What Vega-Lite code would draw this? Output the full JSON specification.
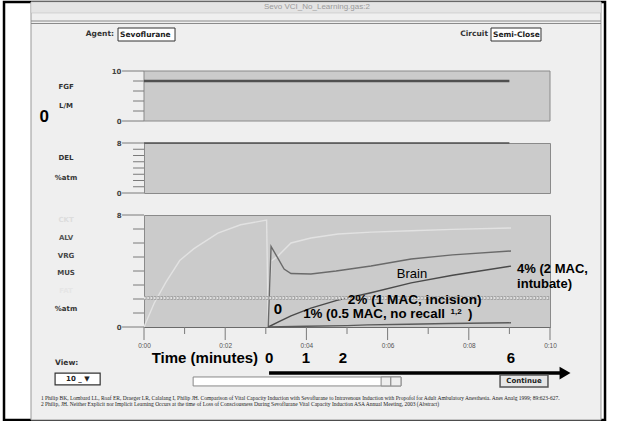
{
  "$schema": "https://vega.github.io/schema/vega-lite/v6.json",
  "padding": 0,
  "background": "white",
  "bounds": "flush",
  "spacing": 22,
  "data": {"values": [{}]},
  "config": {
    "view": {"fill": "#cbcbcb", "stroke": "#8a8a8a", "strokeWidth": 1},
    "axis": {"grid": false, "domainColor": "#8a8a8a", "tickColor": "transparent", "labelColor": "#444", "labelFont": "DejaVu Sans", "labelFontSize": 7, "labelFontWeight": "bold"},
    "text": {"font": "Liberation Sans"}
  },
  "datasets": {
    "fgf": [{"t": 0, "v": 8}, {"t": 9, "v": 8}],
    "del": [{"t": 0, "v": 8}, {"t": 9, "v": 8}],
    "gas": [
      {"s": "CKT", "t": 0, "v": 0}, {"s": "CKT", "t": 0.25, "v": 1.7}, {"s": "CKT", "t": 0.54, "v": 3.2}, {"s": "CKT", "t": 0.88, "v": 4.75},
      {"s": "CKT", "t": 1.23, "v": 5.6}, {"s": "CKT", "t": 1.82, "v": 6.7}, {"s": "CKT", "t": 2.38, "v": 7.3}, {"s": "CKT", "t": 3.02, "v": 7.64},
      {"s": "CKT", "t": 3.06, "v": 0.05}, {"s": "CKT", "t": 3.13, "v": 4.7}, {"s": "CKT", "t": 3.3, "v": 5.07}, {"s": "CKT", "t": 3.62, "v": 6.0},
      {"s": "CKT", "t": 4.11, "v": 6.36}, {"s": "CKT", "t": 4.78, "v": 6.64}, {"s": "CKT", "t": 5.6, "v": 6.78}, {"s": "CKT", "t": 6.58, "v": 6.88},
      {"s": "CKT", "t": 7.6, "v": 6.97}, {"s": "CKT", "t": 9.04, "v": 7.07},
      {"s": "ALV", "t": 3.06, "v": 0}, {"s": "ALV", "t": 3.13, "v": 5.75}, {"s": "ALV", "t": 3.3, "v": 4.9}, {"s": "ALV", "t": 3.45, "v": 4.14},
      {"s": "ALV", "t": 3.62, "v": 3.82}, {"s": "ALV", "t": 4.11, "v": 3.79}, {"s": "ALV", "t": 4.73, "v": 4.0}, {"s": "ALV", "t": 5.59, "v": 4.36},
      {"s": "ALV", "t": 6.58, "v": 4.86}, {"s": "ALV", "t": 7.6, "v": 5.15}, {"s": "ALV", "t": 9.04, "v": 5.43},
      {"s": "VRG", "t": 3.06, "v": 0}, {"s": "VRG", "t": 3.3, "v": 0.35}, {"s": "VRG", "t": 3.62, "v": 0.8}, {"s": "VRG", "t": 4.11, "v": 1.35},
      {"s": "VRG", "t": 4.75, "v": 1.9}, {"s": "VRG", "t": 5.59, "v": 2.45}, {"s": "VRG", "t": 6.58, "v": 3.15}, {"s": "VRG", "t": 7.6, "v": 3.7},
      {"s": "VRG", "t": 9.04, "v": 4.35},
      {"s": "MUS", "t": 3.06, "v": 0}, {"s": "MUS", "t": 4.0, "v": 0.05}, {"s": "MUS", "t": 5.0, "v": 0.1}, {"s": "MUS", "t": 5.5, "v": 0.15},
      {"s": "MUS", "t": 6.5, "v": 0.2}, {"s": "MUS", "t": 7.5, "v": 0.25}, {"s": "MUS", "t": 9.04, "v": 0.3}
    ],
    "majorx": [{"t": 0}, {"t": 2}, {"t": 4}, {"t": 6}, {"t": 8}, {"t": 10}],
    "minorx": [{"t": 1}, {"t": 3}, {"t": 5}, {"t": 7}, {"t": 9}],
    "minor10": [{"v": 2}, {"v": 4}, {"v": 6}, {"v": 8}],
    "major10": [{"v": 0}, {"v": 10}],
    "minor8": [{"v": 1}, {"v": 2}, {"v": 3}, {"v": 4}, {"v": 5}, {"v": 6}, {"v": 7}],
    "major8": [{"v": 0}, {"v": 8}]
  },
  "vconcat": [
    {
      "width": 406,
      "height": 50,
      "layer": [
        {
          "mark": {"type": "rect", "fill": "white"},
          "encoding": {
            "x": {"datum": -3.5222, "type": "quantitative", "scale": {"domain": [0, 10], "nice": false, "zero": false}, "axis": null},
            "x2": {"datum": 12.0197},
            "y": {"datum": 24, "type": "quantitative", "scale": {"domain": [0, 10], "nice": false, "zero": false},
              "axis": {"values": [0, 10], "zindex": 1, "domain": false, "title": null, "tickSize": 11, "labelPadding": 12}},
            "y2": {"datum": -60.2}
          }
        },
        {
          "mark": {"type": "rect", "fill": "white", "stroke": "black", "strokeWidth": 2.5},
          "encoding": {"x": {"datum": -3.448, "type": "quantitative"}, "x2": {"datum": 11.355}, "y": {"datum": 23.8, "type": "quantitative"}, "y2": {"datum": -59.8}}
        },
        {
          "mark": {"type": "rect", "fill": "#efefef", "stroke": "#999999", "strokeWidth": 1},
          "encoding": {"x": {"datum": -2.783, "type": "quantitative"}, "x2": {"datum": 11.256}, "y": {"datum": 23.8, "type": "quantitative"}, "y2": {"datum": -59.8}}
        },
        {
          "mark": {"type": "rect", "fill": "#e4e4e4", "stroke": "#bbbbbb", "strokeWidth": 0.5},
          "encoding": {"x": {"datum": -2.783, "type": "quantitative"}, "x2": {"datum": 11.256}, "y": {"datum": 23.8, "type": "quantitative"}, "y2": {"datum": 21.6}}
        },
        {
          "mark": {"type": "text", "text": "Sevo VCI_No_Learning.gas:2", "fontSize": 8, "color": "#9a9a9a", "align": "center", "baseline": "middle"},
          "encoding": {"x": {"datum": 4.26, "type": "quantitative"}, "y": {"datum": 22.8, "type": "quantitative"}}
        },
        {
          "mark": {"type": "rule", "color": "#8a8a8a", "strokeWidth": 1},
          "encoding": {"x": {"datum": -2.783, "type": "quantitative"}, "x2": {"datum": 11.256}, "y": {"datum": 20.0, "type": "quantitative"}}
        },
        {
          "mark": {"type": "rule", "color": "#8a8a8a", "strokeWidth": 1},
          "encoding": {"x": {"datum": -2.783, "type": "quantitative"}, "x2": {"datum": 11.256}, "y": {"datum": 19.5, "type": "quantitative"}}
        },
        {
          "mark": {"type": "text", "text": "Agent:", "font": "DejaVu Sans", "fontSize": 7.5, "fontWeight": "bold", "color": "#333", "align": "right", "baseline": "middle"},
          "encoding": {"x": {"datum": -0.739, "type": "quantitative"}, "y": {"datum": 17.4, "type": "quantitative"}}
        },
        {
          "mark": {"type": "rect", "fill": "white", "stroke": "#333", "strokeWidth": 1},
          "encoding": {"x": {"datum": -0.64, "type": "quantitative"}, "x2": {"datum": 0.764}, "y": {"datum": 18.6, "type": "quantitative"}, "y2": {"datum": 16.0}}
        },
        {
          "mark": {"type": "text", "text": "Sevoflurane", "font": "DejaVu Sans", "fontSize": 7.5, "fontWeight": "bold", "color": "#222", "align": "left", "baseline": "middle"},
          "encoding": {"x": {"datum": -0.59, "type": "quantitative"}, "y": {"datum": 17.3, "type": "quantitative"}}
        },
        {
          "mark": {"type": "text", "text": "Circuit", "font": "DejaVu Sans", "fontSize": 7.5, "fontWeight": "bold", "color": "#333", "align": "right", "baseline": "middle"},
          "encoding": {"x": {"datum": 8.473, "type": "quantitative"}, "y": {"datum": 17.4, "type": "quantitative"}}
        },
        {
          "mark": {"type": "rect", "fill": "white", "stroke": "#333", "strokeWidth": 1},
          "encoding": {"x": {"datum": 8.547, "type": "quantitative"}, "x2": {"datum": 9.778}, "y": {"datum": 18.6, "type": "quantitative"}, "y2": {"datum": 16.0}}
        },
        {
          "mark": {"type": "text", "text": "Semi-Close", "font": "DejaVu Sans", "fontSize": 7.5, "fontWeight": "bold", "color": "#222", "align": "left", "baseline": "middle"},
          "encoding": {"x": {"datum": 8.596, "type": "quantitative"}, "y": {"datum": 17.3, "type": "quantitative"}}
        },
        {
          "mark": {"type": "rect", "fill": "#cbcbcb", "stroke": "#8a8a8a", "strokeWidth": 1},
          "encoding": {"x": {"datum": 0, "type": "quantitative"}, "x2": {"datum": 10}, "y": {"datum": 10, "type": "quantitative"}, "y2": {"datum": 0}}
        },
        {
          "data": {"name": "major10"},
          "mark": {"type": "rule", "color": "#7a7a7a", "strokeWidth": 1},
          "encoding": {"x": {"datum": -0.54, "type": "quantitative"}, "x2": {"datum": 0}, "y": {"field": "v", "type": "quantitative"}}
        },
        {
          "data": {"name": "minor10"},
          "mark": {"type": "rule", "color": "#7a7a7a", "strokeWidth": 1},
          "encoding": {"x": {"datum": -0.27, "type": "quantitative"}, "x2": {"datum": 0}, "y": {"field": "v", "type": "quantitative"}}
        },
        {
          "data": {"name": "fgf"},
          "mark": {"type": "line", "color": "#505050", "strokeWidth": 2.5},
          "encoding": {"x": {"field": "t", "type": "quantitative"}, "y": {"field": "v", "type": "quantitative"}}
        },
        {
          "mark": {"type": "text", "text": "FGF", "font": "DejaVu Sans", "fontSize": 7, "fontWeight": "bold", "color": "#333", "align": "center", "baseline": "middle"},
          "encoding": {"x": {"datum": -1.92, "type": "quantitative"}, "y": {"datum": 6.8, "type": "quantitative"}}
        },
        {
          "mark": {"type": "text", "text": "L/M", "font": "DejaVu Sans", "fontSize": 7, "fontWeight": "bold", "color": "#333", "align": "center", "baseline": "middle"},
          "encoding": {"x": {"datum": -1.92, "type": "quantitative"}, "y": {"datum": 3.0, "type": "quantitative"}}
        },
        {
          "mark": {"type": "text", "text": "0", "fontSize": 17, "fontWeight": "bold", "color": "black", "align": "center", "baseline": "middle"},
          "encoding": {"x": {"datum": -2.46, "type": "quantitative"}, "y": {"datum": 0.8, "type": "quantitative"}}
        }
      ]
    },
    {
      "width": 406,
      "height": 50,
      "layer": [
        {
          "data": {"name": "del"},
          "mark": {"type": "line", "color": "#505050", "strokeWidth": 1.5},
          "encoding": {
            "x": {"field": "t", "type": "quantitative", "scale": {"domain": [0, 10], "nice": false, "zero": false}, "axis": null},
            "y": {"field": "v", "type": "quantitative", "scale": {"domain": [0, 8], "nice": false, "zero": false},
              "axis": {"values": [0, 8], "domain": false, "title": null, "tickSize": 11, "labelPadding": 12}}
          }
        },
        {
          "data": {"name": "major8"},
          "mark": {"type": "rule", "color": "#7a7a7a", "strokeWidth": 1},
          "encoding": {"x": {"datum": -0.54, "type": "quantitative"}, "x2": {"datum": 0}, "y": {"field": "v", "type": "quantitative"}}
        },
        {
          "data": {"name": "minor8"},
          "mark": {"type": "rule", "color": "#7a7a7a", "strokeWidth": 1},
          "encoding": {"x": {"datum": -0.27, "type": "quantitative"}, "x2": {"datum": 0}, "y": {"field": "v", "type": "quantitative"}}
        },
        {
          "mark": {"type": "text", "text": "DEL", "font": "DejaVu Sans", "fontSize": 7, "fontWeight": "bold", "color": "#333", "align": "center", "baseline": "middle"},
          "encoding": {"x": {"datum": -1.92, "type": "quantitative"}, "y": {"datum": 5.6, "type": "quantitative"}}
        },
        {
          "mark": {"type": "text", "text": "%atm", "font": "DejaVu Sans", "fontSize": 7, "fontWeight": "bold", "color": "#333", "align": "center", "baseline": "middle"},
          "encoding": {"x": {"datum": -1.92, "type": "quantitative"}, "y": {"datum": 2.4, "type": "quantitative"}}
        }
      ]
    },
    {
      "width": 406,
      "height": 112,
      "layer": [
        {
          "data": {"name": "gas"},
          "mark": {"type": "line", "strokeWidth": 1.4},
          "encoding": {
            "x": {"field": "t", "type": "quantitative", "scale": {"domain": [0, 10], "nice": false, "zero": false},
              "axis": {"values": [0, 2, 4, 6, 8, 10], "title": null, "labelFlush": false, "tickSize": 7,
                "labelExpr": "'0:' + (datum.value < 10 ? '0' : '') + datum.value",
                "labelPadding": 8, "labelFont": "Liberation Sans", "labelFontWeight": "normal", "labelFontSize": 6.5, "labelColor": "#555", "domainColor": "#6a6a6a"}},
            "y": {"field": "v", "type": "quantitative", "scale": {"domain": [0, 8], "nice": false, "zero": false},
              "axis": {"values": [0, 8], "domain": false, "title": null, "tickSize": 11, "labelPadding": 12}},
            "color": {"field": "s", "type": "nominal", "legend": null,
              "scale": {"domain": ["CKT", "ALV", "VRG", "MUS"], "range": ["#e2e2e2", "#6a6a6a", "#4a4a4a", "#5a5a5a"]}}
          }
        },
        {
          "data": {"name": "majorx"},
          "mark": {"type": "rule", "color": "#7a7a7a", "strokeWidth": 1},
          "encoding": {"x": {"field": "t", "type": "quantitative"}, "y": {"datum": 0, "type": "quantitative"}, "y2": {"datum": -0.93}}
        },
        {
          "data": {"name": "minorx"},
          "mark": {"type": "rule", "color": "#7a7a7a", "strokeWidth": 1},
          "encoding": {"x": {"field": "t", "type": "quantitative"}, "y": {"datum": 0, "type": "quantitative"}, "y2": {"datum": -0.5}}
        },
        {
          "data": {"name": "major8"},
          "mark": {"type": "rule", "color": "#7a7a7a", "strokeWidth": 1},
          "encoding": {"x": {"datum": -0.54, "type": "quantitative"}, "x2": {"datum": 0}, "y": {"field": "v", "type": "quantitative"}}
        },
        {
          "data": {"name": "minor8"},
          "mark": {"type": "rule", "color": "#7a7a7a", "strokeWidth": 1},
          "encoding": {"x": {"datum": -0.27, "type": "quantitative"}, "x2": {"datum": 0}, "y": {"field": "v", "type": "quantitative"}}
        },
        {
          "mark": {"type": "rule", "color": "#a5a5a5", "strokeWidth": 4, "strokeDash": [2.5, 0.8]},
          "encoding": {"x": {"datum": 0, "type": "quantitative"}, "x2": {"datum": 10}, "y": {"datum": 2.07, "type": "quantitative"}}
        },
        {
          "mark": {"type": "rule", "color": "#e2e2e2", "strokeWidth": 1.8, "strokeDash": [1.6, 1.7]},
          "encoding": {"x": {"datum": 0, "type": "quantitative"}, "x2": {"datum": 10}, "y": {"datum": 2.07, "type": "quantitative"}}
        },
        {
          "mark": {"type": "text", "text": "0", "fontSize": 15, "fontWeight": "bold", "color": "black", "align": "center", "baseline": "middle"},
          "encoding": {"x": {"datum": 3.3, "type": "quantitative"}, "y": {"datum": 1.29, "type": "quantitative"}}
        },
        {
          "mark": {"type": "text", "text": "1% (0.5 MAC, no recall", "fontSize": 13.3, "fontWeight": "bold", "color": "black", "align": "left", "baseline": "middle"},
          "encoding": {"x": {"datum": 3.92, "type": "quantitative"}, "y": {"datum": 0.93, "type": "quantitative"}}
        },
        {
          "mark": {"type": "text", "text": "1,2", "fontSize": 8, "fontWeight": "bold", "color": "black", "align": "left", "baseline": "middle"},
          "encoding": {"x": {"datum": 7.55, "type": "quantitative"}, "y": {"datum": 1.1, "type": "quantitative"}}
        },
        {
          "mark": {"type": "text", "text": ")", "fontSize": 13.3, "fontWeight": "bold", "color": "black", "align": "left", "baseline": "middle"},
          "encoding": {"x": {"datum": 7.98, "type": "quantitative"}, "y": {"datum": 0.93, "type": "quantitative"}}
        },
        {
          "mark": {"type": "text", "text": "2% (1 MAC, incision)", "fontSize": 13.6, "fontWeight": "bold", "color": "black", "align": "left", "baseline": "middle"},
          "encoding": {"x": {"datum": 5.02, "type": "quantitative"}, "y": {"datum": 1.93, "type": "quantitative"}}
        },
        {
          "mark": {"type": "text", "text": "Brain", "fontSize": 13, "color": "black", "align": "center", "baseline": "middle"},
          "encoding": {"x": {"datum": 6.6, "type": "quantitative"}, "y": {"datum": 3.79, "type": "quantitative"}}
        },
        {
          "mark": {"type": "text", "text": "4% (2 MAC,", "fontSize": 13, "fontWeight": "bold", "color": "black", "align": "left", "baseline": "middle"},
          "encoding": {"x": {"datum": 9.19, "type": "quantitative"}, "y": {"datum": 4.14, "type": "quantitative"}}
        },
        {
          "mark": {"type": "text", "text": "intubate)", "fontSize": 13, "fontWeight": "bold", "color": "black", "align": "left", "baseline": "middle"},
          "encoding": {"x": {"datum": 9.19, "type": "quantitative"}, "y": {"datum": 3.07, "type": "quantitative"}}
        },
        {
          "mark": {"type": "text", "text": "CKT", "font": "DejaVu Sans", "fontSize": 7, "fontWeight": "bold", "color": "#dddddd", "align": "center", "baseline": "middle"},
          "encoding": {"x": {"datum": -1.92, "type": "quantitative"}, "y": {"datum": 7.64, "type": "quantitative"}}
        },
        {
          "mark": {"type": "text", "text": "ALV", "font": "DejaVu Sans", "fontSize": 7, "fontWeight": "bold", "color": "#555", "align": "center", "baseline": "middle"},
          "encoding": {"x": {"datum": -1.92, "type": "quantitative"}, "y": {"datum": 6.36, "type": "quantitative"}}
        },
        {
          "mark": {"type": "text", "text": "VRG", "font": "DejaVu Sans", "fontSize": 7, "fontWeight": "bold", "color": "#444", "align": "center", "baseline": "middle"},
          "encoding": {"x": {"datum": -1.92, "type": "quantitative"}, "y": {"datum": 5.07, "type": "quantitative"}}
        },
        {
          "mark": {"type": "text", "text": "MUS", "font": "DejaVu Sans", "fontSize": 7, "fontWeight": "bold", "color": "#444", "align": "center", "baseline": "middle"},
          "encoding": {"x": {"datum": -1.92, "type": "quantitative"}, "y": {"datum": 3.86, "type": "quantitative"}}
        },
        {
          "mark": {"type": "text", "text": "FAT", "font": "DejaVu Sans", "fontSize": 7, "fontWeight": "bold", "color": "#e6e6e6", "align": "center", "baseline": "middle"},
          "encoding": {"x": {"datum": -1.92, "type": "quantitative"}, "y": {"datum": 2.57, "type": "quantitative"}}
        },
        {
          "mark": {"type": "text", "text": "%atm", "font": "DejaVu Sans", "fontSize": 7, "fontWeight": "bold", "color": "#333", "align": "center", "baseline": "middle"},
          "encoding": {"x": {"datum": -1.92, "type": "quantitative"}, "y": {"datum": 1.29, "type": "quantitative"}}
        },
        {
          "mark": {"type": "text", "text": "Time (minutes)", "fontSize": 15, "fontWeight": "bold", "color": "black", "align": "center", "baseline": "middle"},
          "encoding": {"x": {"datum": 1.5, "type": "quantitative"}, "y": {"datum": -2.21, "type": "quantitative"}}
        },
        {
          "mark": {"type": "text", "text": "0", "fontSize": 15, "fontWeight": "bold", "color": "black", "align": "center", "baseline": "middle"},
          "encoding": {"x": {"datum": 3.08, "type": "quantitative"}, "y": {"datum": -2.21, "type": "quantitative"}}
        },
        {
          "mark": {"type": "text", "text": "1", "fontSize": 15, "fontWeight": "bold", "color": "black", "align": "center", "baseline": "middle"},
          "encoding": {"x": {"datum": 3.99, "type": "quantitative"}, "y": {"datum": -2.21, "type": "quantitative"}}
        },
        {
          "mark": {"type": "text", "text": "2", "fontSize": 15, "fontWeight": "bold", "color": "black", "align": "center", "baseline": "middle"},
          "encoding": {"x": {"datum": 4.9, "type": "quantitative"}, "y": {"datum": -2.21, "type": "quantitative"}}
        },
        {
          "mark": {"type": "text", "text": "6", "fontSize": 15, "fontWeight": "bold", "color": "black", "align": "center", "baseline": "middle"},
          "encoding": {"x": {"datum": 9.04, "type": "quantitative"}, "y": {"datum": -2.21, "type": "quantitative"}}
        },
        {
          "mark": {"type": "rule", "color": "black", "strokeWidth": 3.5},
          "encoding": {"x": {"datum": 3.08, "type": "quantitative"}, "x2": {"datum": 10.3}, "y": {"datum": -3.29, "type": "quantitative"}}
        },
        {
          "mark": {"type": "point", "shape": "triangle-right", "filled": true, "color": "black", "opacity": 1, "size": 160},
          "encoding": {"x": {"datum": 10.37, "type": "quantitative"}, "y": {"datum": -3.29, "type": "quantitative"}}
        },
        {
          "mark": {"type": "text", "text": "View:", "font": "DejaVu Sans", "fontSize": 7.5, "fontWeight": "bold", "color": "#333", "align": "left", "baseline": "middle"},
          "encoding": {"x": {"datum": -2.19, "type": "quantitative"}, "y": {"datum": -2.57, "type": "quantitative"}}
        },
        {
          "mark": {"type": "rect", "fill": "white", "stroke": "#333", "strokeWidth": 1.2},
          "encoding": {"x": {"datum": -2.19, "type": "quantitative"}, "x2": {"datum": -1.08}, "y": {"datum": -3.29, "type": "quantitative"}, "y2": {"datum": -4.14}}
        },
        {
          "mark": {"type": "text", "text": "10 _ ▼", "font": "DejaVu Sans", "fontSize": 7, "fontWeight": "bold", "color": "#222", "align": "center", "baseline": "middle"},
          "encoding": {"x": {"datum": -1.63, "type": "quantitative"}, "y": {"datum": -3.72, "type": "quantitative"}}
        },
        {
          "mark": {"type": "rect", "fill": "white", "stroke": "#888", "strokeWidth": 1},
          "encoding": {"x": {"datum": 1.21, "type": "quantitative"}, "x2": {"datum": 6.33}, "y": {"datum": -3.57, "type": "quantitative"}, "y2": {"datum": -4.21}}
        },
        {
          "mark": {"type": "rect", "fill": "#eeeeee", "stroke": "#888", "strokeWidth": 1},
          "encoding": {"x": {"datum": 5.84, "type": "quantitative"}, "x2": {"datum": 6.08}, "y": {"datum": -3.57, "type": "quantitative"}, "y2": {"datum": -4.21}}
        },
        {
          "mark": {"type": "rect", "fill": "#eeeeee", "stroke": "#888", "strokeWidth": 1},
          "encoding": {"x": {"datum": 6.08, "type": "quantitative"}, "x2": {"datum": 6.33}, "y": {"datum": -3.57, "type": "quantitative"}, "y2": {"datum": -4.21}}
        },
        {
          "mark": {"type": "rect", "fill": "#e6e6e6", "stroke": "#555", "strokeWidth": 1.5},
          "encoding": {"x": {"datum": 8.77, "type": "quantitative"}, "x2": {"datum": 9.95}, "y": {"datum": -3.43, "type": "quantitative"}, "y2": {"datum": -4.29}}
        },
        {
          "mark": {"type": "text", "text": "Continue", "font": "DejaVu Sans", "fontSize": 7, "fontWeight": "bold", "color": "#222", "align": "center", "baseline": "middle"},
          "encoding": {"x": {"datum": 9.36, "type": "quantitative"}, "y": {"datum": -3.86, "type": "quantitative"}}
        },
        {
          "mark": {"type": "text", "text": "1 Philip BK, Lombard LL, Roaf ER, Draeger LR, Calalang I, Philip JH.  Comparison of Vital Capacity Induction with Sevoflurane to Intravenous Induction with Propofol  for Adult Ambulatory Anesthesia.  Anes Analg 1999; 89:623-627.", "font": "Liberation Serif", "fontSize": 5.5, "color": "#222", "align": "left", "baseline": "middle"},
          "encoding": {"x": {"datum": -2.54, "type": "quantitative"}, "y": {"datum": -5.07, "type": "quantitative"}}
        },
        {
          "mark": {"type": "text", "text": "2 Philip, JH. Neither Explicit nor Implicit Learning Occurs at the time of Loss of Consciousness During Sevoflurane Vital Capacity Induction ASA Annual Meeting,  2003 (Abstract)", "font": "Liberation Serif", "fontSize": 5.5, "color": "#222", "align": "left", "baseline": "middle"},
          "encoding": {"x": {"datum": -2.54, "type": "quantitative"}, "y": {"datum": -5.5, "type": "quantitative"}}
        }
      ]
    }
  ]
}
